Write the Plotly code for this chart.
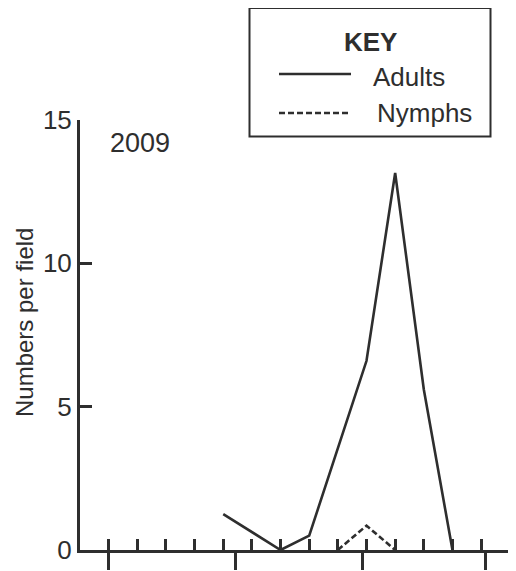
import plotly.graph_objects as go

# Data (x in days from start; sampling weekly)
adult_days = [28, 42, 49, 63, 70, 77, 84]
adult_vals = [1.25, 0.0, 0.5, 6.6, 13.15, 5.6, 0.0]
nymph_days = [56, 63, 70]
nymph_vals = [0.0, 0.85, 0.0]
week_ticks = list(range(0, 99, 7))
month_ticks = [0, 31, 62, 92]
y_ticks = [0, 5, 10, 15]
year_label = "2009"

OFF = 8  # page body margin
W, H = 508, 563
L, R, T, B = 72, 5, 112, 21
PW, PH = W - L - R, H - T - B
FONT = "Liberation Sans, Arial, sans-serif"
INK = "#2e2e2e"


def px(x):  # screen pixel -> paper
    return (x - OFF - L) / PW


def py(y):
    return (H - B - (y - OFF)) / PH


fig = go.Figure()
fig.add_trace(go.Scatter(x=adult_days, y=adult_vals, mode="lines",
                         line=dict(color=INK, width=2.6), showlegend=False,
                         cliponaxis=False))
fig.add_trace(go.Scatter(x=nymph_days, y=nymph_vals, mode="lines",
                         line=dict(color=INK, width=2.6, dash="6px,3px"),
                         showlegend=False, cliponaxis=False))
# invisible trace to activate overlay axis for weekly ticks
fig.add_trace(go.Scatter(x=[week_ticks[0]], y=[0], xaxis="x2", mode="markers",
                         marker=dict(opacity=0), showlegend=False, hoverinfo="skip"))

xr = [-7, 98.3]
fig.update_layout(
    width=W, height=H,
    margin=dict(l=L, r=R, t=T, b=B, pad=0),
    paper_bgcolor="white", plot_bgcolor="white",
    font=dict(family=FONT, color=INK),
    xaxis=dict(range=xr, tickmode="array", tickvals=month_ticks, ticks="outside",
               ticklen=17, tickwidth=3, tickcolor=INK, showticklabels=False,
               showline=True, linewidth=3, linecolor=INK, showgrid=False,
               zeroline=False, fixedrange=True),
    xaxis2=dict(range=xr, overlaying="x", side="bottom", tickmode="array",
                tickvals=week_ticks, ticks="inside", ticklen=11, tickwidth=3,
                tickcolor=INK, showticklabels=False, showline=False,
                showgrid=False, zeroline=False),
    yaxis=dict(range=[0, 15], tickmode="array", tickvals=y_ticks, ticks="inside",
               ticklen=12, tickwidth=3, tickcolor=INK, showline=True, linewidth=3,
               linecolor=INK, showgrid=False, zeroline=False,
               tickfont=dict(size=26, color=INK, family=FONT)),
)

# axis title
fig.add_annotation(x=px(24), y=py(323), xref="paper", yref="paper",
                   text="Numbers per field", textangle=-90, showarrow=False,
                   font=dict(size=24, color=INK, family=FONT),
                   xanchor="center", yanchor="middle")
# year label
fig.add_annotation(x=px(108), y=py(143), xref="paper", yref="paper",
                   text=year_label, showarrow=False,
                   font=dict(size=27, color=INK, family=FONT),
                   xanchor="left", yanchor="middle")

# key box
fig.add_shape(type="rect", xref="paper", yref="paper",
              x0=px(249.5), x1=px(490.5), y0=py(8), y1=py(136.5),
              line=dict(color=INK, width=2), fillcolor="white")
fig.add_annotation(x=px(370), y=py(42), xref="paper", yref="paper",
                   text="<b>KEY</b>", showarrow=False,
                   font=dict(size=26, color=INK, family=FONT),
                   xanchor="center", yanchor="middle")
fig.add_shape(type="line", xref="paper", yref="paper",
              x0=px(279), x1=px(351), y0=py(74), y1=py(74),
              line=dict(color=INK, width=2.6))
fig.add_shape(type="line", xref="paper", yref="paper",
              x0=px(279), x1=px(351), y0=py(113), y1=py(113),
              line=dict(color=INK, width=2.6, dash="6px,3px"))
fig.add_annotation(x=px(371), y=py(77), xref="paper", yref="paper",
                   text="Adults", showarrow=False,
                   font=dict(size=26, color=INK, family=FONT),
                   xanchor="left", yanchor="middle")
fig.add_annotation(x=px(375), y=py(113), xref="paper", yref="paper",
                   text="Nymphs", showarrow=False,
                   font=dict(size=26, color=INK, family=FONT),
                   xanchor="left", yanchor="middle")

fig.write_html("out.html", config=dict(displayModeBar=False))
